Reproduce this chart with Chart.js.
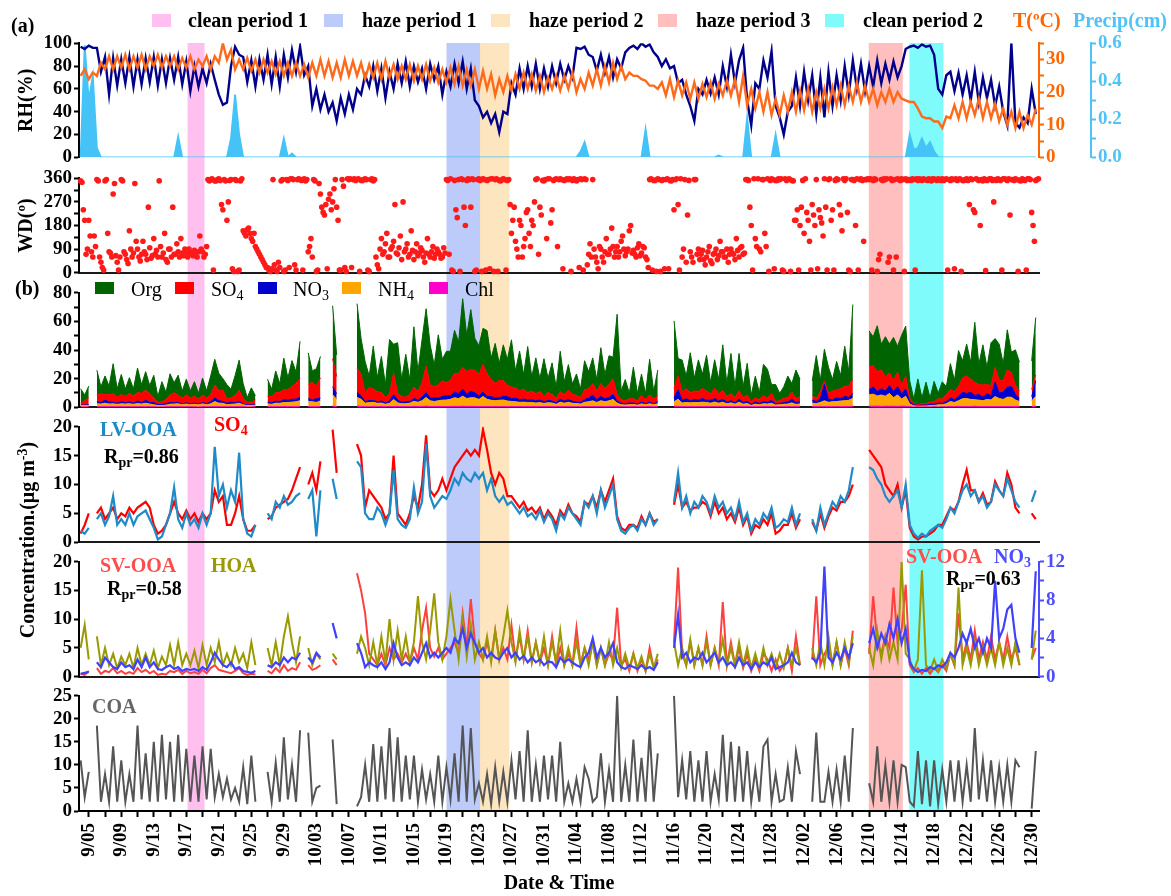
<!DOCTYPE html>
<html lang="en">
<head>
<meta charset="utf-8">
<title>Meteorology and aerosol composition, 4 Sep – 30 Dec</title>
<script src="https://cdn.jsdelivr.net/npm/chart.js@4.4.1/dist/chart.umd.min.js"></script>
<style>
  html, body { margin: 0; padding: 0; background: #fff; }
  #fig { position: relative; width: 1171px; height: 896px; overflow: hidden;
         font-family: 'Liberation Serif', 'Times New Roman', serif; }
  #fig canvas { position: absolute; left: 0; }
  .txt { position: absolute; white-space: nowrap; font-size: 20px; line-height: 20px; font-weight: bold; color: #000; }
  .reg { font-weight: normal; }
  .sw { position: absolute; }
  sub { font-size: 70%; line-height: 0; vertical-align: -0.3em; }
  sup { font-size: 70%; line-height: 0; vertical-align: 0.5em; }
</style>
</head>
<body>
<div id="fig">
  <canvas id="cBands"></canvas>
  <canvas id="cMet"></canvas>
  <canvas id="cWind"></canvas>
  <canvas id="cSpecies"></canvas>
  <canvas id="cLv"></canvas>
  <canvas id="cSv"></canvas>
  <canvas id="cCoa"></canvas>
  <div id="labels">
    <div class="txt" style="left:11px;top:15px">(a)</div>
    <div class="txt" style="left:15px;top:278px">(b)</div>
    <div class="txt" style="left:1013px;top:10px;color:#ff6600">T(ºC)</div>
    <div class="txt" style="left:1073px;top:10px;color:#4fc3f7">Precip(cm)</div>
    <div class="txt" style="left:100px;top:419px;color:#1e8bc8">LV-OOA</div>
    <div class="txt" style="left:214px;top:414px;color:#ff0000">SO<sub>4</sub></div>
    <div class="txt" style="left:104px;top:446px">R<sub>pr</sub>=0.86</div>
    <div class="txt" style="left:100px;top:555px;color:#ff4d4d">SV-OOA</div>
    <div class="txt" style="left:211px;top:555px;color:#999900">HOA</div>
    <div class="txt" style="left:107px;top:578px">R<sub>pr</sub>=0.58</div>
    <div class="txt" style="left:906px;top:546px;color:#ff4d4d">SV-OOA</div>
    <div class="txt" style="left:994px;top:546px;color:#4d4dff">NO<sub>3</sub></div>
    <div class="txt" style="left:946px;top:568px">R<sub>pr</sub>=0.63</div>
    <div class="txt" style="left:92px;top:696px;color:#666666">COA</div>
    <div class="txt" style="left:27px;top:540px;transform:translate(-50%,-50%) rotate(-90deg)">Concentration.(μg m<sup>-3</sup>)</div>
  </div>
</div>
<script>
// Time is counted in days after 1 September (9/05 = day 4, 12/30 = day 120).
const X_MIN = 2.8, X_MAX = 120.9;
const T0 = 3, DT = 0.5;        // half-daily series start 9/04 00:00
const DT_WD = 1 / 6;           // wind direction every 4 h

// Date tick labels, one every 4 days starting 9/05; minor ticks every 2 days
const dateTicks = ['9/05','9/09','9/13','9/17','9/21','9/25','9/29','10/03','10/07','10/11','10/15','10/19','10/23','10/27','10/31','11/04','11/08','11/12','11/16','11/20','11/24','11/28','12/02','12/06','12/10','12/14','12/18','12/22','12/26','12/30'];
const firstTickDay = 4, labelEvery = 4, tickEvery = 2;

// Shaded periods
const periodNames  = ['clean period 1', 'haze period 1', 'haze period 2', 'haze period 3', 'clean period 2'];
const periodStart  = [16.2, 48.05, 52.1, 100.0, 105.0];
const periodEnd    = [18.2, 52.1, 55.7, 104.1, 109.1];
const periodColors = ['#ffc0f0', '#bccbfa', '#fde5bf', '#ffbfbf', '#80fbfb'];

// Axis ticks and their labels
const rhTicks = [0, 20, 40, 60, 80, 100],            rhTickLabels = ['0', '20', '40', '60', '80', '100'];
const tTicks = [0, 5, 10, 15, 20, 25, 30, 35],       tTickLabels = ['0', '', '10', '', '20', '', '30', ''];
const pTicks = [0, 0.1, 0.2, 0.3, 0.4, 0.5, 0.6],    pTickLabels = ['0.0', '', '0.2', '', '0.4', '', '0.6'];
const wdTicks = [0, 45, 90, 135, 180, 225, 270, 315, 360], wdTickLabels = ['0', '', '90', '', '180', '', '270', '', '360'];
const massTicks = [0, 10, 20, 30, 40, 50, 60, 70, 80], massTickLabels = ['0', '', '20', '', '40', '', '60', '', '80'];
const factorTicks = [0, 5, 10, 15, 20],              factorTickLabels = ['0', '5', '10', '15', '20'];
const no3Ticks = [0, 2, 4, 6, 8, 10, 12],            no3TickLabels = ['0', '', '4', '', '8', '', '12'];
const coaTicks = [0, 5, 10, 15, 20, 25],             coaTickLabels = ['0', '5', '10', '15', '20', '25'];

const _ = null; // instrument gap

// Relative humidity (%), half-daily
const rhPct = [
97,95,98,96,96,75,88,55,
87,63,86,65,88,62,86,64,
87,66,88,63,86,65,87,68,
88,64,84,58,80,62,78,65,
82,68,55,46,48,80,97,90,
88,66,85,62,86,68,90,64,
88,62,90,70,94,75,97,72,
80,45,60,42,55,40,48,32,
52,38,55,42,60,55,72,62,
80,58,78,52,75,60,82,65,
84,62,80,66,78,60,82,68,
80,55,75,62,82,65,84,60,
78,50,45,35,40,30,38,22,
40,38,65,55,78,60,80,62,
82,60,78,62,80,65,82,68,
80,70,96,95,97,90,88,76,
90,74,88,70,86,78,92,96,
98,95,100,97,99,92,88,80,
86,78,80,65,68,55,45,32,
60,55,68,56,70,55,80,62,
90,65,85,96,50,28,65,60,
85,70,93,45,35,20,40,45,
70,45,75,50,72,38,70,35,
75,45,72,50,80,55,85,60,
82,58,80,62,85,65,82,68,
84,70,80,95,97,98,96,99,
97,98,90,60,55,72,75,58,
74,55,72,50,75,48,70,52,
68,45,62,40,28,100,30,26,
35,30,60,38];

// Air temperature (ºC), half-daily
const tempC = [
25,27,24,26,25,29,27,31,
27,31,27.5,31.5,27,31,27.5,31.5,
27,31,28,31.5,27.5,31,28,31,
27,30.5,27.5,31,27,30,28,31,
27,31,29,35,30,33,27,30,
27,30.5,26.5,30,26,30,26,29.5,
25.5,29.5,25,29,25,29,25,28.5,
24.5,29,25,30,25,29.5,24.5,29,
24.5,30,25,29.5,25,29,24,28.5,
24.5,29,24,29.5,24.5,28.5,24,28,
24,28.5,23.5,28,24,28.5,23.5,27.5,
23,27,23,27.5,22.5,28,22,27,
22,27,21,26.5,21,25.5,19,24,
20,25,20.5,25.5,21,26,21,25.5,
20.5,25,20,24.5,21,25,20.5,25,
21,26,20,24,21,26,22,27,
22,28,23,29,24,28,24,26,
25,25,24,23.5,22,22,21,23,
19,24,18.5,23.5,19,23,18,23,
18,22.5,18.5,23,18,22.5,19,23.5,
19,24,17,25,16,21,15,20,
14,20,13,18,13,19,14,20,
14,20.5,14.5,21,14,20,15,21,
15,21.5,16,22,16,22,17,23,
17,22,17,21,16,20,17,21,
17,20,18,17.5,17,17,15,12.5,
12,12,11,11,9,12.5,12,16,
12,17,12,17,13,18,12,17,
12,16.5,11,15,10,14,9,14,
9,13,10,15];

// Precipitation (cm), half-daily
const precipCm = [
0,0.59,0.3,0.43,0.05,0,0,0,
0,0,0,0,0,0,0,0,
0,0,0,0,0,0,0,0,
0.11,0,0,0,0,0,0,0,
0,0,0,0,0,0.1,0.33,0.12,
0,0,0,0,0,0,0,0,
0,0,0.1,0,0.02,0,0,0,
0,0,0,0,0,0,0,0,
0,0,0,0,0,0,0,0,
0,0,0,0,0,0,0,0,
0,0,0,0,0,0,0,0,
0,0,0,0,0,0,0,0,
0,0,0,0,0,0,0,0,
0,0,0,0,0,0,0,0,
0,0,0,0,0,0,0,0,
0,0,0,0.03,0.08,0,0,0,
0,0,0,0,0,0,0,0,
0,0,0,0.15,0,0,0,0,
0,0,0,0,0,0,0,0,
0,0,0,0,0,0.01,0,0,
0,0,0,0,0.21,0,0,0,
0,0,0,0.12,0,0,0,0,
0,0,0,0,0,0,0,0,
0,0,0,0,0,0,0,0,
0,0,0,0,0,0,0,0,
0,0,0,0,0.12,0.04,0.05,0.1,
0.05,0.08,0.03,0,0,0,0,0,
0,0,0,0,0,0,0,0,
0,0,0,0,0,0,0,0,
0,0,0,0];

// Wind direction (degrees), every 4 h, one row per two days
const windDir = [
350,345,240,200,70,90, 200,140,80,60,140,100,
355,350,60,40,20,10, 350,355,150,80,75,60,
300,340,65,40,10,60, 355,350,80,70,50,35,
160,90,60,75,340,120, 90,60,45,70,120,80,
70,50,250,95,55,65, 130,70,85,60,350,100,
60,75,150,50,40,90, 90,60,250,70,70,110,
80,60,130,75,65,90, 75,60,90,80,70,65,
85,75,60,80,140,90, 80,60,70,100,355,350,
355,358,10,350,350,355, 358,352,260,240,355,350,
200,270,352,355,15,5, 355,352,5,10,350,358,
160,150,140,165,170,150, 130,120,150,100,90,80,
70,60,50,40,30,20, 20,10,5,15,355,30,
10,5,40,20,350,355, 5,10,355,352,20,358,
358,355,30,10,355,358, 355,352,10,358,350,355,
80,100,130,60,355,350, 5,10,340,300,250,230,
220,260,15,280,300,240, 270,320,355,250,200,10,
10,355,330,20,5,358, 355,358,20,355,358,352,
355,358,5,352,352,355, 358,355,10,5,355,358,
350,355,60,30,15,90, 130,70,80,110,150,60,
60,90,100,120,260,75, 70,95,140,50,270,80,
90,110,60,70,160,85, 50,80,110,65,75,95,
85,60,40,75,130,70, 60,80,100,55,70,90,
80,70,55,60,95,75, 355,352,70,358,10,5,
352,240,210,355,5,358, 355,250,180,352,358,355,
250,358,355,5,10,355, 358,352,5,358,355,10,
352,355,15,358,358,5, 355,358,5,352,350,355,
358,355,10,352,355,260, 150,200,250,120,90,60,
200,180,60,100,130,230, 240,150,100,200,180,270,
355,358,70,250,220,352, 350,355,130,358,358,190,
240,352,355,358,100,355, 358,355,15,352,355,358,
355,358,5,352,358,355, 350,355,20,358,355,10,
358,355,30,70,110,60, 355,90,60,40,15,100,
90,60,40,80,130,70, 70,90,170,100,60,80,
100,60,80,120,140,90, 65,80,90,160,180,75,
85,70,60,95,110,65, 75,100,95,60,50,20,
355,358,10,352,352,5, 358,355,5,352,355,15,
355,358,15,352,350,355, 240,355,358,260,10,358,
60,90,355,40,220,352, 80,60,40,355,355,70,
90,50,70,85,50,30, 60,80,100,45,35,70,
75,90,50,65,120,80, 80,60,60,90,40,70,
90,75,70,50,130,85, 60,95,100,70,75,355,
355,352,250,180,10,358, 130,100,358,90,80,355,
355,150,100,358,5,352, 358,355,15,352,352,358,
355,358,10,5,358,352, 355,358,5,352,350,200,
200,240,10,180,250,352, 150,358,230,200,120,10,
260,220,180,355,15,240, 210,190,140,358,250,10,
355,358,200,240,10,352, 358,355,260,220,160,358,
352,358,230,10,5,355, 355,352,180,358,10,355,
358,352,120,355,355,358, 355,358,10,352,358,355,
5,50,70,355,352,358, 355,358,40,60,358,352,
10,355,60,358,355,352, 358,355,5,358,352,355,
355,352,358,355,10,358, 352,358,355,352,358,355,
355,352,358,355,350,358, 357,355,352,358,355,352,
358,352,355,358,10,355, 352,358,355,15,358,352,
355,358,5,352,352,355, 358,352,260,358,355,240,
230,358,355,352,180,355, 350,358,8,352,355,358,
358,352,270,355,352,358, 355,352,10,358,358,355,
352,358,220,355,355,352, 358,355,5,352,350,358,
355,352,10,358,358,355, 230,180,120,352,355,358];

// Aerosol species (µg m-3), half-daily
const orgMass = [
10,4,8,_,17,5,13,6,
21,6,14,5,11,5,17,6,
13,6,16,4,14,5,15,7,
14,5,11,5,10,4,12,5,
13,18,12,8,10,6,14,21,
10,3,10,3,_,_,12,5,
15,6,22,8,18,8,26,_,
22,8,12,15,_,_,37,15,
_,_,_,_,45,25,22,8,
30,10,25,9,38,20,35,12,
30,10,42,14,30,40,28,15,
35,15,22,20,30,22,48,25,
42,22,20,25,30,15,28,12,
25,18,33,12,28,10,32,10,
25,9,26,10,22,8,28,9,
18,7,15,6,20,12,18,8,
25,10,20,15,56,6,15,4,
22,5,15,4,25,5,18,_,
_,_,47,12,22,9,28,9,
22,10,25,8,20,10,32,9,
28,8,26,8,22,5,15,5,
22,20,6,12,5,8,15,6,
20,12,_,_,10,30,8,22,
18,8,20,9,28,10,52,_,
_,_,25,20,32,18,28,20,
30,18,35,35,12,3,18,4,
15,3,14,4,12,6,18,8,
25,12,22,12,42,14,28,12,
30,20,25,12,28,14,25,20,
_,_,20,40];

const so4Mass = [
1.5,3,5,_,5,6,4,5,
6,4,5,4.5,6,5,6,6.5,
7,6,3,1.5,2,3,5,7,
5,4,5.5,4,5,3.5,5,4,
5,9,7,8,3,3,5,8,
4,2,2,3,_,_,4,4.5,
6,6.5,7,7.5,9,11,13,_,
10,12,9,14,_,_,19.5,12,
_,_,_,_,17,15,6,9,
8,7,6,4,5,15,5,4,
3,5,8,6,10,18.5,9,8,
9,11,9,11,13,14,15,16,
15,16,15,19.5,16,12,10,12,
11,8,8,7,6,7,5.5,6,
5,6,4,5.5,4.5,3,5.5,4.5,
6.5,5,4.5,3.5,7,6.5,8,6,
9,7,9,11,4.5,2.5,2,3,
3,2.5,4.5,3,5,3.5,4,_,
_,_,6.5,10,6,7,5.5,6,
6,7,6.5,4.5,7,5,6,4,
5,3.5,6,3,4.5,1.5,3,2.5,
4,3,5,1.5,2,3,3,5,
2.5,4,_,_,3.5,2,5,2.5,
4.5,6,5.5,7,7,8,10,_,
_,_,16,15,14,13,10,9,
8,10,6,9,2.5,1,0.5,1,
1,1.5,2,3,3,4.5,6,5.5,
7,10,12.5,9,9,7,8.5,6.5,
7,10.5,9,8,12,10,6,5,
_,_,5,4];

const no3Mass = [
0.3,0.4,0.5,_,1.5,1,2,1.5,
1,0.8,1.5,1,1.2,0.8,1.8,1,
2,1,1.5,0.8,0.7,1,1.2,0.8,
1,0.6,0.8,0.7,0.8,0.6,1,0.7,
1.5,2.5,1.8,1.2,1,1.5,0.8,1,
0.6,0.5,0.4,0.6,_,_,1.2,1,
1.5,1.2,2,1.5,2,1.8,2.5,_,
2,1.5,2.5,2,_,_,5.6,4,
_,_,_,_,3.5,2.5,1,1.5,
1.2,1,1.5,0.8,1.5,3.5,2,1.2,
1.5,1.2,2,1.5,2.5,3.5,2,2.5,
2,2.5,3,2.5,4,3.5,5,3,
4.5,3.5,2.5,3,2,2.5,2,1.8,
2.5,3,2,2.5,1.8,2.2,1.5,2,
1.5,1.8,1.2,1.6,1.5,1,2,1.5,
1.8,1.5,1.2,1,2,2.5,4,2,
3,2,2.5,3.5,1.5,1,0.8,1.2,
1,0.8,1.2,0.8,1,0.7,1.5,_,
_,_,3,6.5,2,2.5,1.5,2,
1.8,2.5,1.5,2,2.5,1.5,2,1.2,
1.5,1,2,1.2,1.5,0.8,1.5,1,
1.5,1.2,2,0.8,1,1.2,1.5,2.5,
1.5,1.2,_,_,2,1.5,2.5,11.5,
2,1.5,2.5,1.8,3,2,3.5,_,
_,_,3.5,5,3,4.5,3.5,5.5,
4,6,3.5,5,1.5,0.8,0.5,0.7,
0.6,1,0.8,1.2,1,1.5,2.5,2,
3,4.5,3.5,5,3,4,2.5,4,
3,10,4,5,7,7.5,4,2.5,
_,_,3,11];

const nh4Mass = [
1,1,1,_,2,2,2.5,2,
2,1.8,2,2,2.2,1.8,2.2,2,
2.5,2,1.5,1,1,1.2,1.8,2,
2,1.5,2,1.5,1.8,1.5,2,1.5,
2,3.5,2.5,2.5,1.5,1.8,2,2.5,
1.5,1,1,1.2,_,_,2,1.8,
2.5,2.5,2.8,3,3.2,3.5,4,_,
3.5,3.5,3,4,_,_,8,5,
_,_,_,_,6,5,2.5,3,
3,2.5,2.5,1.8,2.2,5,2.5,2,
2,2.5,3.5,3,4,6,4,3.5,
4,4.5,4.5,5,6,5.5,7,5.5,
6,6,5,7,5,4.5,4,4.5,
4.5,4,3.5,3.5,3,3.2,2.8,3,
2.5,3,2.2,2.8,2.5,1.8,3,2.5,
3,2.5,2.2,2,3,3.5,4,3,
4,3.5,4,5,2.2,1.5,1.2,1.5,
1.5,1.2,2,1.5,2,1.5,2,_,
_,_,3,5,2.5,3,2.5,3,
2.8,3.2,2.8,2.5,3.2,2.5,3,2,
2.5,1.8,3,1.8,2.2,1,1.8,1.5,
2,1.8,2.5,1.2,1.5,1.8,1.8,2.8,
1.5,2,_,_,2.5,2,3,4,
3,3.5,3.5,4,4,4.5,5.5,_,
_,_,8,8.5,7,8,7,9,
6,8,5,7,2,0.8,0.5,0.7,
0.6,1,1,1.5,1.5,2.2,3.5,3,
4,5.5,5.5,5,4.5,4.5,4,5,
4.5,7,5.5,5,6.5,6.5,4.5,3.5,
_,_,4,7];

const chlMass = [
0.2,0.2,0.3,_,0.4,0.3,0.4,0.3,
0.4,0.3,0.4,0.3,0.3,0.3,0.4,0.3,
0.4,0.3,0.3,0.2,0.2,0.3,0.4,0.3,
0.4,0.3,0.3,0.3,0.3,0.2,0.4,0.3,
0.4,0.5,0.4,0.3,0.3,0.3,0.3,0.4,
0.3,0.2,0.2,0.3,_,_,0.4,0.3,
0.4,0.3,0.5,0.4,0.4,0.4,0.6,_,
0.5,0.4,0.4,0.5,_,_,0.8,0.5,
_,_,_,_,0.9,0.6,0.4,0.3,
0.5,0.3,0.5,0.3,0.6,0.5,0.6,0.4,
0.5,0.4,0.7,0.5,0.6,0.8,0.6,0.5,
0.6,0.5,0.6,0.6,0.7,0.6,0.8,0.6,
0.7,0.6,0.5,0.6,0.6,0.4,0.6,0.4,
0.6,0.4,0.6,0.4,0.5,0.4,0.6,0.4,
0.5,0.3,0.5,0.4,0.5,0.3,0.6,0.4,
0.5,0.3,0.4,0.3,0.5,0.4,0.5,0.4,
0.6,0.4,0.5,0.5,0.7,0.3,0.4,0.3,
0.5,0.3,0.4,0.3,0.5,0.3,0.5,_,
_,_,0.8,0.6,0.5,0.4,0.6,0.4,
0.5,0.4,0.6,0.4,0.5,0.4,0.6,0.4,
0.6,0.4,0.6,0.4,0.5,0.3,0.4,0.3,
0.5,0.5,0.3,0.4,0.3,0.3,0.5,0.3,
0.5,0.4,_,_,0.4,0.6,0.4,0.5,
0.5,0.4,0.5,0.4,0.6,0.4,0.8,_,
_,_,0.8,0.7,0.9,0.6,0.8,0.7,
0.8,0.6,0.8,0.7,0.3,0.2,0.3,0.2,
0.3,0.2,0.3,0.2,0.3,0.3,0.5,0.4,
0.6,0.5,0.6,0.5,0.8,0.5,0.6,0.5,
0.6,0.5,0.6,0.5,0.6,0.5,0.6,0.5,
_,_,0.4,0.7];

// OA factors (µg m-3), half-daily
const lvOoa = [
2,1.5,2.5,_,4,5,3,4.5,
8,3,4,3,5,3,4.5,5,
5.5,4,2.5,0.5,1,3,5,9.5,
4,2.5,5,3,4,2.5,5,3,
5,16.5,8,10,6,9,7,15.5,
4,1.5,1,3,_,_,5,4,
7,6,8,6.5,7,8,8.5,_,
7.5,9,1,9,_,_,11,7.5,
_,_,_,_,14,13,5,4,
4,6,5,3,5,12.5,4,3,
2.5,4,9.5,5,7,17,8,6,
7,8,7.5,9,11,10,12,11,
10.5,12,11,12,9,11,8,7,
8,6.5,7,6,5,6,4.5,5,
4,5.5,3.5,5,4,2,5,4,
6,5,4,3,7,6,8,5,
9,6,8,10,4,2,1.5,2.5,
3,2,4,3,5,3,4,_,
_,_,7,12,6,8,5,7,
6,8,7,5,8,6,7,5,
6,4,7,3.5,5,2,4,3,
5,4,6,2.5,3,4,3.5,6,
3,5,_,_,4,2,6,3,
5,7,6,8,7,9,13,_,
_,_,13,12.5,11,10,8,7,
8,9,6,10,3,1.5,0.8,1.5,
1,2,2.5,3,2.5,4,6,5,
7,9,10,8,9,7,8,6,
7,10,9,8,11,9,7,6,
_,_,7,9];

const svOoa = [
0.5,0.3,1,_,1.5,0.5,1,0.8,
1.5,0.6,1,0.5,0.8,0.5,1.5,0.8,
1.2,0.6,1,0.3,0.5,0.4,1,0.8,
1.2,0.5,1,0.6,0.8,0.5,1.2,0.6,
1.5,2,1.2,1,0.8,0.6,1,1.5,
0.6,0.3,0.5,0.4,_,_,1,0.6,
1.5,0.8,2,1,1.5,1.2,2.5,_,
2,1.2,1.5,2,_,_,3,2,
_,_,_,_,18,15,11,4,
3,2,4,2,5,3,4,2.5,
4,2.5,5,3,8,12,5,3.5,
5,3,4,5,6,4,11,5,
13.5,6,4,3,6,3,8,3,
5,3,9,3,7,3,8,2.5,
6,2.5,5,2,7,2,5,2,
4,2,8.5,2,5,3,6,2,
5,2,4,3,12,2,3,1,
4,1,3,1,5,1.5,3,_,
_,_,6,19,4,2,6,2,
5,2,7,2,5,2,13,2,
6,2,5,1.5,4,1,3,1,
4,3,1,3,1,2,5,1,
7,2,_,_,3,14,2,4,
5,2,6,2,5,2,8,_,
_,_,4,14,6,4,7,5,
15.5,6,8,16,2,0.8,1.5,0.5,
1.5,0.5,1.5,0.8,2,1,4,2,
11,3,6,3,8,3,6,3,
7,3,6,3,7,3,5,2,
_,_,3,5];

const hoa = [
5,9,3,_,7,2,5,2,
4,1.5,3.5,2,4,1.5,5,2,
4,2,4.5,1.5,3.5,2,5.5,2,
6,2,4,2,4.5,1.5,5.5,2,
5,2.5,6,2,4,2,5,2.5,
4,1.5,6,2,_,_,5,2,
6,2,7,10.5,6,2.5,7,_,
5,2,4,3,_,_,4,3,
_,_,_,_,4,7,5,2,
6,2,7,2.5,10,3,8,3,
7,2.5,6,14,6,3,8,14.5,
6,3,7,13.5,8,3,10,3.5,
9,3,6,3,7,2.5,8,3,
7,11.5,6,2.5,8,3,7,2.5,
6,2.5,7,2,6,2.5,8,2,
5,2,6,2,5,2,6,2,
5,2,6,2,5,1.5,4,1.5,
4,1.5,3.5,1,4,1.5,4,_,
_,_,6,2,5,2,6.5,2,
5,2,6,2,5,2.5,6.5,2,
5,2,6,2,5,1.5,4,1.5,
5,2,4,1.5,4,1.5,5,2,
5,2,_,_,5,2,6,2,
7,2,6,2,6,2.5,7,_,
_,_,5,2,8,3,7,3,
6,3,20,4,3,1,3,18.5,
2,1,3,1,3,1.5,4,2,
15.5,2,5,2,6,2,5,2,
5,2,6,2,5,2,6,2,
_,_,3,8];

const coa = [
11,3,8.5,_,18.5,2,8,2,
14,2,11,2,8,2,18.5,2.5,
12.5,2,15,2,16.5,2.5,15,2,
16.5,2,13.5,2,12,2,14,2.5,
13.5,3,8,3,7,2.5,5,2,
9.5,1.5,12,2,_,_,8.5,2,
10.5,2,16,2.5,10,2,17.5,_,
17,2,5,5.5,_,_,15.5,1.5,
_,_,_,_,1,3,10,2,
14.5,2,14,2.5,18,2,16,2,
12,2.5,12,2,9,2.5,8,2,
12,2,9.5,2.5,12.5,2,18.5,2,
18,2.5,6,2,8,1.5,9.5,2,
8.5,2,11,2.5,13,2,17.5,2,
10,2,12,2.5,12,2,15,2,
6,2,7,2,9.5,7,2,3,
12.5,2,9,2,25,2,10,2,
15.5,2,11.5,2,17.5,2,12.5,_,
_,_,25,3,11,2.5,13,2,
11,2,13,2,8,2.5,16.5,2,
15,2,14,2,13,2,9,2,
14,15.5,2,8,2,2.5,9.5,2,
13,8,_,_,2,17,2,2,
8.5,2,9,2,12,2,18,_,
_,_,6,2,14,2,10,2,
11,2,10,9.5,2,1,13,1.5,
11,1,11,1.5,9,2,11,2,
11,2,10,2,18,2.5,11,2,
11,2,9.5,2,10,2,11,9.5,
_,_,0.5,13];

// Legend content for the species panel (bottom-to-top stacking is Chl, NH4, NO3, SO4, Org)
const speciesLabels = ['Org', 'SO<sub>4</sub>', 'NO<sub>3</sub>', 'NH<sub>4</sub>', 'Chl'];
const speciesColors = ['#006400', '#ff0000', '#0000cd', '#ffa500', '#ff00cc'];

// ---------------------------------------------------------------------------
const LEFT_W = 79, RIGHT_W = 132;
const TICK_FONT = { family: "'Liberation Serif','Times New Roman',serif", size: 19, weight: 'bold' };
const TITLE_FONT = { family: "'Liberation Serif','Times New Roman',serif", size: 20, weight: 'bold' };

const series = (arr, t0, dt) => arr.map((v, i) => ({ x: t0 + i * dt, y: v }));

function place(id, top, bottom, below) {
  const c = document.getElementById(id);
  const ct = Math.floor(top) - 14;
  const cb = below ? 896 : Math.ceil(bottom) + 14;
  c.width = 1171; c.height = cb - ct; c.style.top = ct + 'px';
  return { c, pt: top - ct, pb: cb - bottom - (below || 0) };
}

function yAxis(o) {
  const col = o.color || '#000';
  return {
    type: 'linear', position: o.position || 'left', weight: o.weight || 0,
    min: o.values[0], max: o.values[o.values.length - 1], stacked: !!o.stacked,
    afterFit: s => { s.width = o.width; },
    afterBuildTicks: s => { s.ticks = o.values.map(v => ({ value: v })); },
    border: { display: true, color: col, width: 2 },
    grid: { display: true, drawOnChartArea: false, drawTicks: true, tickLength: 5, tickWidth: 2, tickColor: col },
    ticks: { autoSkip: false, color: col, padding: 2, font: TICK_FONT, callback: (v, i) => o.labels[i] },
    title: o.title
      ? { display: true, text: o.title, color: '#000', font: TITLE_FONT, padding: { top: 15, bottom: 0 } }
      : { display: false }
  };
}
const xHidden = () => ({ type: 'linear', min: X_MIN, max: X_MAX, display: false });
const xBaseline = () => ({
  type: 'linear', min: X_MIN, max: X_MAX,
  afterFit: s => { s.height = 0; },
  grid: { display: false }, ticks: { display: false },
  border: { display: true, color: '#1a1a1a', width: 2 }
});
function xDates(h) {
  const vals = [];
  for (let d = firstTickDay; d <= X_MAX; d += tickEvery) vals.push(d);
  return {
    type: 'linear', min: X_MIN, max: X_MAX,
    afterFit: s => { s.height = h; },
    afterBuildTicks: s => { s.ticks = vals.map(v => ({ value: v })); },
    border: { display: true, color: '#000', width: 2 },
    grid: { display: true, drawOnChartArea: false, tickLength: 6, tickWidth: 2, tickColor: '#000' },
    ticks: {
      autoSkip: false, minRotation: 90, maxRotation: 90, padding: 6, font: TICK_FONT, color: '#000',
      callback: v => ((v - firstTickDay) % labelEvery === 0 ? dateTicks[(v - firstTickDay) / labelEvery] : '')
    },
    title: { display: true, text: 'Date & Time', color: '#000', font: TITLE_FONT, padding: { top: 0, bottom: 0 } }
  };
}
function line(arr, color, width, axis, extra) {
  return Object.assign({
    type: 'line', data: series(arr, T0, DT), borderColor: color, backgroundColor: color,
    borderWidth: width, pointRadius: 0, tension: 0, spanGaps: false, fill: false, yAxisID: axis
  }, extra || {});
}
function makeChart(p, type, datasets, scales, padRight) {
  return new Chart(p.c, {
    type, data: { datasets },
    options: {
      responsive: false, animation: false, events: [],
      layout: { padding: { left: 0, right: padRight, top: p.pt, bottom: p.pb } },
      plugins: { legend: { display: false }, tooltip: { enabled: false } },
      scales
    }
  });
}

// Shaded periods across all panels
(function () {
  const c = document.getElementById('cBands');
  c.width = 1171; c.height = 768; c.style.top = '43px';
  new Chart(c, {
    type: 'bar',
    data: {
      labels: [''],
      datasets: periodNames.map((n, i) => ({
        label: n, data: [[periodStart[i], periodEnd[i]]], backgroundColor: periodColors[i],
        borderWidth: 0, grouped: false, barPercentage: 1, categoryPercentage: 1
      }))
    },
    options: {
      indexAxis: 'y', responsive: false, animation: false, events: [],
      layout: { padding: { left: LEFT_W, right: RIGHT_W, top: 0, bottom: 0 } },
      plugins: { legend: { display: false }, tooltip: { enabled: false } },
      scales: { x: { type: 'linear', min: X_MIN, max: X_MAX, display: false }, y: { display: false } }
    }
  });
})();

// (a) RH, temperature, precipitation
makeChart(place('cMet', 43.3, 157.3), 'line', [
  line(tempC, '#ff6a1a', 2.4, 'yT'),
  line(rhPct, '#00008b', 2.4, 'y'),
  line(precipCm, '#45c3f7', 1.8, 'yP', { fill: 'origin' })
], {
  x: xHidden(),
  y: yAxis({ values: rhTicks, labels: rhTickLabels, width: LEFT_W, title: 'RH(%)' }),
  yT: yAxis({ values: tTicks, labels: tTickLabels, width: 52, position: 'right', weight: 0, color: '#ff6600' }),
  yP: yAxis({ values: pTicks, labels: pTickLabels, width: 80, position: 'right', weight: 1, color: '#4fc3f7' })
}, 0);

// Wind direction
makeChart(place('cWind', 178.3, 272.7), 'scatter', [{
  type: 'scatter', data: series(windDir, T0, DT_WD), backgroundColor: '#ff1a1a',
  borderWidth: 0, pointRadius: 2.8, clip: false
}], {
  x: xBaseline(),
  y: yAxis({ values: wdTicks, labels: wdTickLabels, width: LEFT_W, title: 'WD(º)' })
}, RIGHT_W);

// (b) stacked species
makeChart(place('cSpecies', 292.7, 407.3), 'line', [
  line(chlMass, '#ff00cc', 1, 'y', { fill: 'origin' }),
  line(nh4Mass, '#ffa500', 1, 'y', { fill: '-1' }),
  line(no3Mass, '#0000cd', 1, 'y', { fill: '-1' }),
  line(so4Mass, '#ff0000', 1, 'y', { fill: '-1' }),
  line(orgMass, '#006400', 1, 'y', { fill: '-1' })
], {
  x: xBaseline(),
  y: yAxis({ values: massTicks, labels: massTickLabels, width: LEFT_W, stacked: true })
}, RIGHT_W);

// LV-OOA vs sulfate
makeChart(place('cLv', 426.7, 542.3), 'line', [
  line(lvOoa, '#1e8bc8', 2.2, 'y'),
  line(so4Mass, '#ff0000', 2.2, 'y')
], {
  x: xBaseline(),
  y: yAxis({ values: factorTicks, labels: factorTickLabels, width: LEFT_W })
}, RIGHT_W);

// SV-OOA, HOA and nitrate
makeChart(place('cSv', 561.7, 676.7), 'line', [
  line(no3Mass, '#4040ff', 2.2, 'yN'),
  line(hoa, '#999900', 2, 'y'),
  line(svOoa, '#ff4040', 2, 'y')
], {
  x: xBaseline(),
  y: yAxis({ values: factorTicks, labels: factorTickLabels, width: LEFT_W }),
  yN: yAxis({ values: no3Ticks, labels: no3TickLabels, width: RIGHT_W, position: 'right', color: '#4d4dff' })
}, 0);

// COA with the date axis
makeChart(place('cCoa', 695.7, 811, 85), 'line', [
  line(coa, '#555555', 2, 'y')
], {
  x: xDates(85),
  y: yAxis({ values: coaTicks, labels: coaTickLabels, width: LEFT_W })
}, RIGHT_W);

// Legends
(function () {
  const host = document.getElementById('labels');
  function add(html, cls, css) {
    const d = document.createElement('div');
    d.className = cls; d.innerHTML = html; Object.assign(d.style, css); host.appendChild(d);
  }
  const periodSlots = [[152, 188], [324, 362], [491, 529], [658, 696], [825, 863]];
  periodNames.forEach((n, i) => {
    add('', 'sw', { left: periodSlots[i][0] + 'px', top: '14px', width: '19px', height: '13px', background: periodColors[i] });
    add(n, 'txt', { left: periodSlots[i][1] + 'px', top: '10px' });
  });
  const speciesSlots = [[95, 131], [175, 211], [258, 293], [342, 378], [429, 465]];
  speciesLabels.forEach((n, i) => {
    add('', 'sw', { left: speciesSlots[i][0] + 'px', top: '282px', width: '19px', height: '12px', background: speciesColors[i] });
    add(n, 'txt reg', { left: speciesSlots[i][1] + 'px', top: '279px' });
  });
})();
</script>
</body>
</html>
